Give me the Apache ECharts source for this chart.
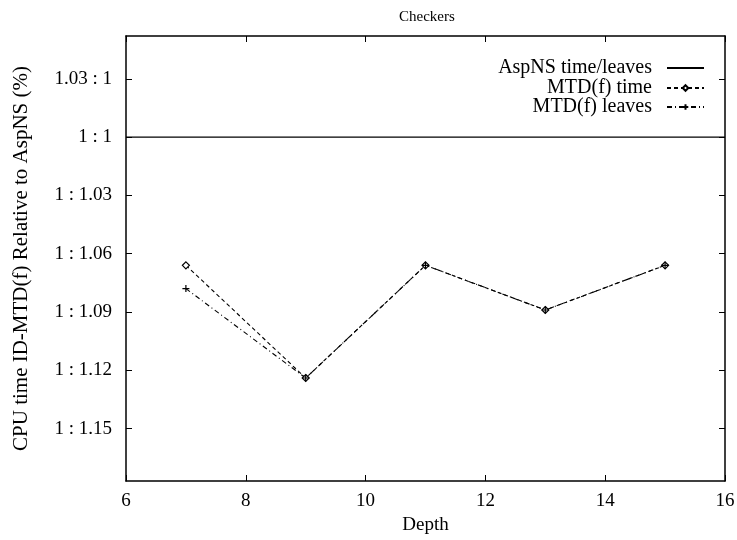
<!DOCTYPE html>
<html>
<head>
<meta charset="utf-8">
<script src="https://cdn.jsdelivr.net/npm/echarts@6/dist/echarts.min.js"></script>
<style>html,body{margin:0;padding:0;background:#fff}#c{width:737px;height:540px}</style>
</head>
<body>
<div id="c"></div>
<script>
// ---- data ----
const depths = [7, 9, 11, 13, 15];
const mtdTime = [-6.6, -12.4, -6.6, -8.9, -6.6];
const mtdLeaves = [-7.8, -12.4, -6.6, -8.9, -6.6];
const aspnsDepths = [6, 16];
const aspnsValues = [0, 0];
const yTickValues = [3, 0, -3, -6, -9, -12, -15];
const yTickLabels = ['1.03 : 1', '1 : 1', '1 : 1.03', '1 : 1.06', '1 : 1.09', '1 : 1.12', '1 : 1.15'];
const xTickValues = [6, 8, 10, 12, 14, 16];
const seriesNames = ['AspNS time/leaves', 'MTD(f) time', 'MTD(f) leaves'];

const FONT = '"Liberation Serif", "DejaVu Serif", serif';
const zip = (xs, ys) => xs.map((x, i) => [x, ys[i]]);
const labelFor = v => { const i = yTickValues.indexOf(v); return i >= 0 ? yTickLabels[i] : ''; };

const axisLine = { show: true, onZero: false, lineStyle: { color: '#000', width: 1.5 } };
const tick = { show: true, inside: true, length: 6, lineStyle: { color: '#000', width: 1 } };

const chart = echarts.init(document.getElementById('c'), null, { renderer: 'canvas' });
const plusPath = 'path://M0,5L10,5M5,0L5,10';

const legendBase = {
  orient: 'vertical', align: 'right', right: 32, padding: 0, itemWidth: 37, itemHeight: 7,
  textStyle: { fontFamily: FONT, fontSize: 20, color: '#000', padding: [0, 10, 0, 0] },
  selectedMode: false
};

chart.setOption({
  backgroundColor: '#fff',
  animation: false,
  title: {
    text: 'Checkers', left: 394, top: 5,
    textStyle: { fontFamily: FONT, fontSize: 15, fontWeight: 'normal', color: '#000' }
  },
  legend: [
    Object.assign({}, legendBase, { top: 58, data: [seriesNames[0]], itemStyle: { opacity: 0 } }),
    Object.assign({}, legendBase, { top: 78, data: [seriesNames[1]] }),
    Object.assign({}, legendBase, { top: 97, data: [seriesNames[2]] })
  ],
  grid: { left: 126, right: 12, top: 36, bottom: 59, containLabel: false, outerBoundsMode: 'none' },
  xAxis: [
    {
      type: 'value', min: 6, max: 16, interval: 2,
      name: 'Depth', nameLocation: 'middle', nameGap: 31,
      nameTextStyle: { fontFamily: FONT, fontSize: 19, color: '#000' },
      axisLine: axisLine, axisTick: tick, splitLine: { show: false },
      axisLabel: { margin: 11, fontFamily: FONT, fontSize: 19, color: '#000', customValues: xTickValues }
    },
    {
      type: 'value', min: 6, max: 16, interval: 2, position: 'top',
      axisLine: axisLine, axisTick: tick, splitLine: { show: false },
      axisLabel: { show: false }
    }
  ],
  yAxis: [
    {
      type: 'value', min: -17.7, max: 5.2,
      name: 'CPU time ID-MTD(f) Relative to AspNS (%)', nameLocation: 'middle', nameGap: 94,
      nameTextStyle: { fontFamily: FONT, fontSize: 21, color: '#000' },
      axisLine: axisLine, splitLine: { show: false },
      axisTick: Object.assign({}, tick, { customValues: yTickValues }),
      axisLabel: { margin: 14, fontFamily: FONT, fontSize: 19, color: '#000', customValues: yTickValues, formatter: labelFor }
    },
    {
      type: 'value', min: -17.7, max: 5.2, position: 'right',
      axisLine: axisLine, splitLine: { show: false },
      axisTick: Object.assign({}, tick, { customValues: yTickValues }),
      axisLabel: { show: false, customValues: yTickValues }
    }
  ],
  series: [
    {
      name: seriesNames[0], type: 'line', data: zip(aspnsDepths, aspnsValues),
      symbol: 'none', lineStyle: { color: '#000', width: 1.3, type: 'solid' },
      itemStyle: { color: '#000' }
    },
    {
      name: seriesNames[1], type: 'line', data: zip(depths, mtdTime),
      symbol: 'diamond', symbolSize: 7, showAllSymbol: true,
      lineStyle: { color: '#000', width: 1.1, type: [4, 3] },
      itemStyle: { color: '#fff', borderColor: '#000', borderWidth: 1.2 }
    },
    {
      name: seriesNames[2], type: 'line', data: zip(depths, mtdLeaves),
      symbol: plusPath, symbolSize: 7, showAllSymbol: true,
      lineStyle: { color: '#000', width: 1.1, type: [5, 3, 1, 3] },
      itemStyle: { color: 'none', borderColor: '#000', borderWidth: 1.2 }
    }
  ]
});
</script>
</body>
</html>
